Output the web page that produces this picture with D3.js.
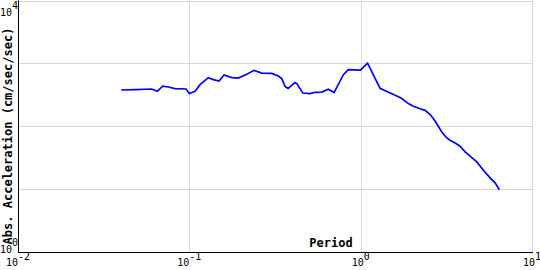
<!DOCTYPE html>
<html>
<head>
<meta charset="utf-8">
<script src="https://cdn.jsdelivr.net/npm/d3@7"></script>
<style>
  body { margin: 0; background: #fff; }
  svg { display: block; }
</style>
</head>
<body>
<section></section>
<script>
// global constants.
const width = 540;
const height = 270;
const plotLeft = 18, plotRight = 532, plotTop = 0.5, plotBottom = 252;
const font = '"DejaVu Sans Mono", monospace';

// spectrum data
const periods = [
  0.040, 0.0486, 0.0603, 0.0650, 0.0699, 0.0754, 0.0825, 0.0956, 0.100, 0.108,
  0.1155, 0.129, 0.138, 0.149, 0.1594, 0.1768, 0.1932, 0.2163, 0.2385, 0.2647,
  0.3027, 0.3308, 0.3463, 0.362, 0.377, 0.414, 0.4253, 0.459, 0.5066, 0.5418,
  0.5928, 0.6476, 0.6993, 0.7925, 0.8477, 0.996, 1.097, 1.298, 1.413, 1.721,
  1.898, 2.031, 2.223, 2.377, 2.552, 2.719, 2.975, 3.18, 3.325, 3.557,
  3.804, 4.07, 4.352, 4.762, 5.204, 5.694, 6.09, 6.45
];
const accels = [
  377, 383, 391, 359, 436, 421, 397, 391, 331, 359,
  459, 593, 551, 524, 652, 593, 584, 669, 774, 702,
  694, 629, 572, 431, 401, 494, 473, 338, 331, 347,
  350, 387, 343, 662, 794, 783, 1007, 401, 359, 281,
  229, 208, 190, 179, 152, 121, 81.2, 65.2, 60.0, 54.3,
  48.2, 39.1, 33.4, 27.1, 20.0, 15.1, 12.6, 9.8
];
const xTicks = [0.01, 0.1, 1, 10];
const xExps = ['-2', '-1', '0', '1'];
const yTicks = [1, 10, 100, 1000, 10000];
const yLabelTicks = [1, 10000];
const yExps = {1: '0', 10000: '4'};

const svg = d3.select('section')
  .append('svg')
  .attr('width', width)
  .attr('height', height);

const xScale = d3.scaleLog().domain([0.01, 10]).range([plotLeft, plotRight]);
const yScale = d3.scaleLog().domain([1, 10000]).range([plotBottom, plotTop]);

// grid
svg.append('g')
  .selectAll('line')
  .data(xTicks.slice(1))
  .enter()
  .append('line')
  .attr('x1', (d) => Math.round(xScale(d)) + 0.5)
  .attr('x2', (d) => Math.round(xScale(d)) + 0.5)
  .attr('y1', plotTop)
  .attr('y2', plotBottom)
  .attr('stroke', '#d9d9d9');

svg.append('g')
  .selectAll('line')
  .data(yTicks.slice(1))
  .enter()
  .append('line')
  .attr('x1', plotLeft)
  .attr('x2', plotRight)
  .attr('y1', (d) => Math.round(yScale(d)) + 0.5)
  .attr('y2', (d) => Math.round(yScale(d)) + 0.5)
  .attr('stroke', '#d9d9d9');

// axes lines
svg.append('line')
  .attr('x1', plotLeft + 0.5).attr('x2', plotLeft + 0.5)
  .attr('y1', plotTop).attr('y2', plotBottom + 0.5)
  .attr('stroke', '#000');
svg.append('line')
  .attr('x1', plotLeft).attr('x2', plotRight + 1)
  .attr('y1', plotBottom + 0.5).attr('y2', plotBottom + 0.5)
  .attr('stroke', '#000');

// x tick labels
const xLab = svg.append('g')
  .selectAll('text')
  .data(xTicks)
  .enter()
  .append('text')
  .attr('x', (d) => xScale(d))
  .attr('y', 266)
  .attr('text-anchor', 'middle')
  .attr('font-family', font)
  .attr('font-size', 10)
  .attr('fill', '#000');
xLab.append('tspan').text('10');
xLab.append('tspan')
  .attr('dy', -6)
  .text((d, i) => xExps[i]);

// y tick labels (top one kept inside the picture)
const yLab = svg.append('g')
  .selectAll('text')
  .data(yLabelTicks)
  .enter()
  .append('text')
  .attr('x', 0)
  .attr('y', (d) => Math.max(yScale(d) + 1, 16))
  .attr('font-family', font)
  .attr('font-size', 10)
  .attr('fill', '#000');
yLab.append('tspan').text('10');
yLab.append('tspan')
  .attr('dy', -7)
  .text((d) => yExps[d]);

// the line
const line = d3.line()
  .x((d) => xScale(d[0]))
  .y((d) => yScale(d[1]));

svg.append('path')
  .datum(periods.map((p, i) => [p, accels[i]]))
  .attr('d', line)
  .attr('fill', 'none')
  .attr('stroke', '#0000ff')
  .attr('stroke-width', 1.7);

// titles
svg.append('text')
  .attr('transform', 'translate(12, 136) rotate(-90)')
  .attr('text-anchor', 'middle')
  .attr('font-family', font)
  .attr('font-weight', 'bold')
  .attr('font-size', 12)
  .text('Abs. Acceleration (cm/sec/sec)');

svg.append('text')
  .attr('x', 331)
  .attr('y', 247)
  .attr('text-anchor', 'middle')
  .attr('font-family', font)
  .attr('font-weight', 'bold')
  .attr('font-size', 12)
  .text('Period');
</script>
</body>
</html>
